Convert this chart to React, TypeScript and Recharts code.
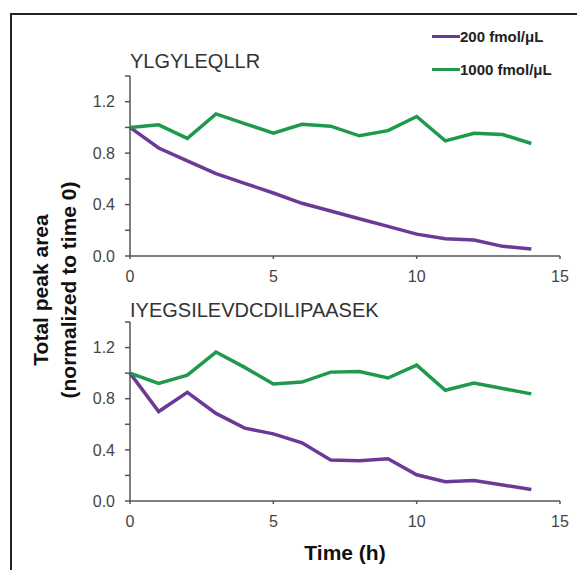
import { LineChart, Line, XAxis, YAxis, Legend } from 'recharts';

// time points (h)
const hours = [0, 1, 2, 3, 4, 5, 6, 7, 8, 9, 10, 11, 12, 13, 14];

// YLGYLEQLLR, normalized peak area
const ylgy200 = [1.0, 0.84, 0.74, 0.64, 0.565, 0.49, 0.41, 0.35, 0.29, 0.23, 0.17, 0.135, 0.125, 0.075, 0.055];
const ylgy1000 = [1.0, 1.02, 0.915, 1.105, 1.03, 0.955, 1.025, 1.01, 0.935, 0.975, 1.085, 0.895, 0.955, 0.945, 0.875];

// IYEGSILEVDCDILIPAASEK, normalized peak area
const iyeg200 = [1.0, 0.7, 0.85, 0.685, 0.57, 0.525, 0.455, 0.32, 0.315, 0.33, 0.205, 0.15, 0.16, 0.125, 0.09];
const iyeg1000 = [1.0, 0.92, 0.985, 1.165, 1.045, 0.915, 0.93, 1.008, 1.013, 0.962, 1.063, 0.866, 0.923, 0.88, 0.838];

const seriesNames = ['200 fmol/\u03bcL', '1000 fmol/\u03bcL'];
const peptides = ['YLGYLEQLLR', 'IYEGSILEVDCDILIPAASEK'];
const xTicks = [0, 5, 10, 15];
const yTicks = [0, 0.2, 0.4, 0.6, 0.8, 1.0, 1.2, 1.4];

const colors = ['#6b3a96', '#1f9a4c'];
const font = "'Liberation Sans', Arial, Helvetica, sans-serif";

const buildRows = (a: number[], b: number[]) =>
  hours.map((t, i) => ({ t, low: a[i], high: b[i] }));

const topRows = buildRows(ylgy200, ylgy1000);
const bottomRows = buildRows(iyeg200, iyeg1000);

const yFormat = (v: number) => (Math.round(v * 10) % 4 === 0 ? v.toFixed(1) : '');

const LegendBox = () => (
  <div style={{ fontFamily: font, fontWeight: 'bold', fontSize: 15, color: '#222' }}>
    {seriesNames.map((name, i) => (
      <div key={name} style={{ display: 'flex', alignItems: 'center', height: 33 }}>
        <span style={{ display: 'inline-block', width: 28, height: 3, background: colors[i] }} />
        <span>{name}</span>
      </div>
    ))}
  </div>
);

type PanelProps = {
  rows: { t: number; low: number; high: number }[];
  height: number;
  margin: { top: number; right: number; bottom: number; left: number };
  withLegend?: boolean;
};

const Panel = ({ rows, height, margin, withLegend }: PanelProps) => (
  <LineChart width={577} height={height} data={rows} margin={margin}>
    <XAxis
      dataKey='t'
      type='number'
      domain={[0, 15]}
      ticks={xTicks}
      height={30}
      tickSize={3}
      tickMargin={12}
      stroke='#555'
      strokeWidth={1.5}
      tick={{ fill: '#444', fontSize: 16, fontFamily: font }}
    />
    <YAxis
      type='number'
      domain={[0, 1.4]}
      ticks={yTicks}
      width={40}
      tickSize={5}
      tickMargin={10}
      interval={0}
      tickFormatter={yFormat}
      stroke='#555'
      strokeWidth={1.5}
      tick={{ fill: '#444', fontSize: 16, fontFamily: font }}
    />
    {withLegend && (
      <Legend
        layout='vertical'
        align='center'
        verticalAlign='middle'
        wrapperStyle={{ left: 431, top: 20, width: 140 }}
        content={() => <LegendBox />}
      />
    )}
    <Line
      type='linear'
      dataKey='low'
      name={seriesNames[0]}
      stroke={colors[0]}
      strokeWidth={3.5}
      dot={false}
      isAnimationActive={false}
    />
    <Line
      type='linear'
      dataKey='high'
      name={seriesNames[1]}
      stroke={colors[1]}
      strokeWidth={3.5}
      dot={false}
      isAnimationActive={false}
    />
  </LineChart>
);

export default function App() {
  return (
    <div
      style={{
        position: 'absolute',
        left: 0,
        top: 0,
        width: 577,
        height: 570,
        overflow: 'hidden',
        background: '#fff',
        fontFamily: font,
      }}
    >
      <div
        style={{
          position: 'absolute',
          left: 10,
          top: 13,
          width: 620,
          height: 620,
          borderLeft: '2px solid #222',
          borderTop: '2px solid #222',
        }}
      />
      <div style={{ position: 'absolute', left: 1, top: 0 }}>
        <Panel rows={topRows} height={290} margin={{ top: 76, right: 18, bottom: 4, left: 89 }} withLegend />
      </div>
      <div style={{ position: 'absolute', left: 1, top: 290 }}>
        <Panel rows={bottomRows} height={280} margin={{ top: 32, right: 18, bottom: 39, left: 89 }} />
      </div>
      <svg
        width={577}
        height={570}
        style={{ position: 'absolute', left: 0, top: 0, pointerEvents: 'none' }}
      >
        <text x={130} y={68} fontSize={20} fill='#333' fontFamily={font}>
          {peptides[0]}
        </text>
        <text x={130} y={317} fontSize={20} fill='#333' fontFamily={font}>
          {peptides[1]}
        </text>
        <g fontFamily={font} fontWeight='bold' fontSize={21} fill='#111' textAnchor='middle'>
          <text transform='translate(48,290) rotate(-90)'>Total peak area</text>
          <text transform='translate(76,290) rotate(-90)'>(normalized to time 0)</text>
          <text x={345} y={560}>Time (h)</text>
        </g>
      </svg>
    </div>
  );
}
